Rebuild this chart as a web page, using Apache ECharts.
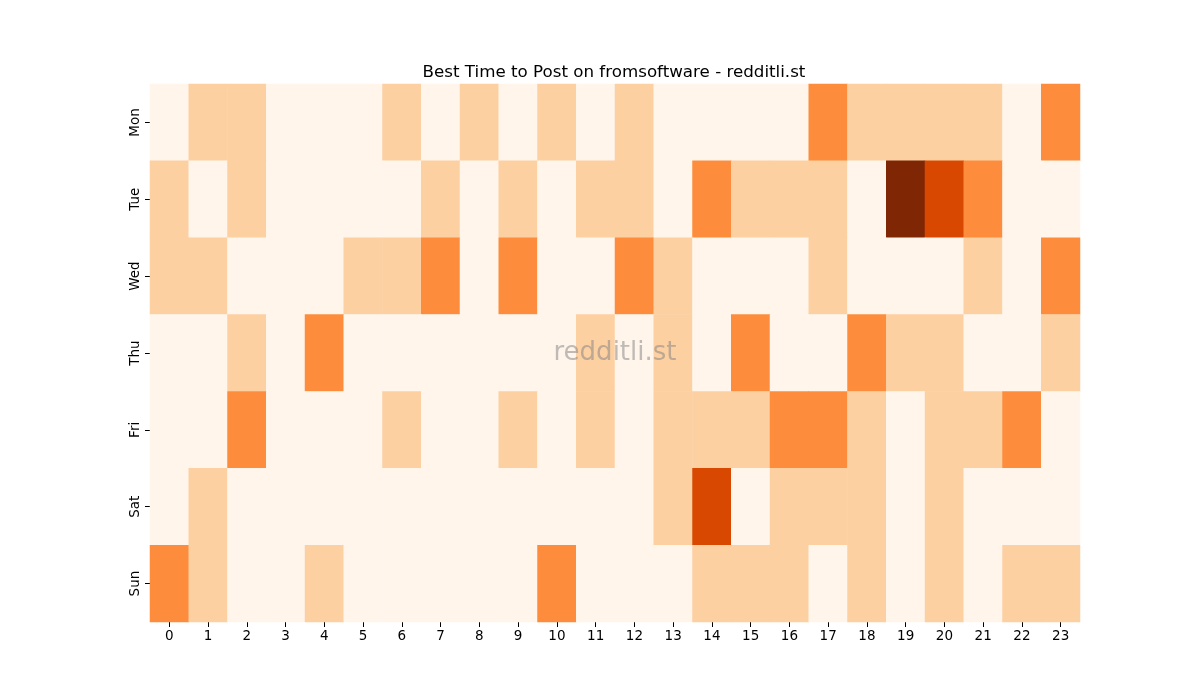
<!DOCTYPE html>
<html>
<head>
<meta charset="utf-8">
<script src="https://cdn.jsdelivr.net/npm/echarts@6/dist/echarts.min.js"></script>
<style>html,body{margin:0;padding:0;background:#fff}#c{width:1200px;height:700px}</style>
</head>
<body>
<div id="c"></div>
<script>
const hours = ['0','1','2','3','4','5','6','7','8','9','10','11','12','13','14','15','16','17','18','19','20','21','22','23'];
const days = ['Mon','Tue','Wed','Thu','Fri','Sat','Sun'];
const mon = [0,1,1,0,0,0,1,0,1,0,1,0,1,0,0,0,0,2,1,1,1,1,0,2];
const tue = [1,0,1,0,0,0,0,1,0,1,0,1,1,0,2,1,1,1,0,4,3,2,0,0];
const wed = [1,1,0,0,0,1,1,2,0,2,0,0,2,1,0,0,0,1,0,0,0,1,0,2];
const thu = [0,0,1,0,2,0,0,0,0,0,0,1,0,1,0,2,0,0,2,1,1,0,0,1];
const fri = [0,0,2,0,0,0,1,0,0,1,0,1,0,1,1,1,2,2,1,0,1,1,2,0];
const sat = [0,1,0,0,0,0,0,0,0,0,0,0,0,1,3,0,1,1,1,0,1,0,0,0];
const sun = [2,1,0,0,1,0,0,0,0,0,2,0,0,0,1,1,1,0,1,0,1,0,1,1];
const rows = [mon,tue,wed,thu,fri,sat,sun];
const data = [];
rows.forEach((r, d) => r.forEach((v, h) => data.push([h, d, v])));

const chart = echarts.init(document.getElementById('c'));
const font = 'DejaVu Sans';
chart.setOption({
  animation: false,
  title: {
    text: 'Best Time to Post on fromsoftware - redditli.st',
    left: 609, top: 59, textAlign: 'center',
    textStyle: {fontFamily: font, fontSize: 16.7, fontWeight: 'normal', color: '#000'}
  },
  grid: {left: 150, top: 84, width: 930, height: 538},
  xAxis: {
    type: 'category', data: hours,
    axisLine: {show: false},
    axisTick: {show: true, alignWithLabel: true, length: 5, lineStyle: {color: '#000'}},
    axisLabel: {fontFamily: font, fontSize: 13.5, color: '#000', margin: 7},
    splitLine: {show: false}
  },
  yAxis: {
    type: 'category', data: days, inverse: true,
    axisLine: {show: false},
    axisTick: {show: true, alignWithLabel: true, length: 5, lineStyle: {color: '#000'}},
    axisLabel: {fontFamily: font, fontSize: 13.5, color: '#000', rotate: 90, margin: 8},
    splitLine: {show: false}
  },
  visualMap: {
    show: false, type: 'piecewise', dimension: 2,
    pieces: [
      {value: 0, color: '#fff5eb'},
      {value: 1, color: '#fdd0a2'},
      {value: 2, color: '#fd8d3c'},
      {value: 3, color: '#d94801'},
      {value: 4, color: '#7f2704'}
    ]
  },
  series: [{
    type: 'heatmap', data: data,
    itemStyle: {borderWidth: 0},
    emphasis: {disabled: true}
  }],
  graphic: [{
    type: 'text', x: 615, y: 353,
    style: {
      text: 'redditli.st',
      font: '26px "DejaVu Sans"', fill: 'rgba(128,128,128,0.5)',
      textAlign: 'center', textVerticalAlign: 'middle'
    },
    z: 100
  }]
});
</script>
</body>
</html>
